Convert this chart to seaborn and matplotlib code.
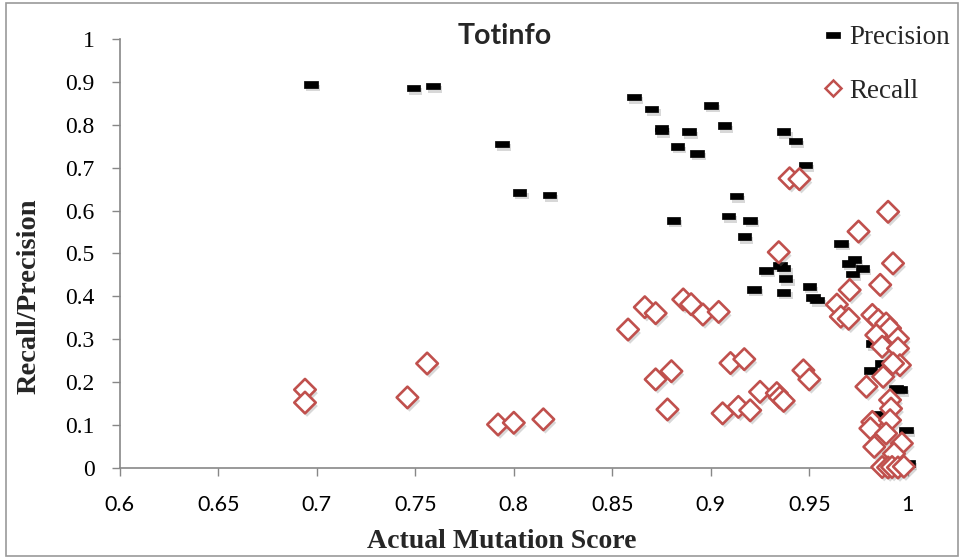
import numpy as np
import pandas as pd
import matplotlib
matplotlib.use("Agg")
import matplotlib.pyplot as plt
import matplotlib.patheffects as pe
from matplotlib.lines import Line2D
from matplotlib.patches import Rectangle
from matplotlib.path import Path
import seaborn as sns

# Precision per mutant sample: actual mutation score vs. precision
precision_score = [0.697, 0.749, 0.759, 0.794, 0.803, 0.818, 0.861, 0.870, 0.900, 0.875,
                   0.875, 0.889, 0.907, 0.883, 0.893, 0.937, 0.943, 0.948, 0.913, 0.881,
                   0.909, 0.920, 0.917, 0.935, 0.937, 0.928, 0.938, 0.922, 0.937, 0.950,
                   0.952, 0.954, 0.966, 0.973, 0.970, 0.977, 0.972, 0.982, 0.987, 0.981,
                   0.994, 0.996, 0.985, 0.999, 1.000]
precision_value = [0.893, 0.885, 0.890, 0.755, 0.642, 0.636, 0.864, 0.836, 0.845, 0.792,
                   0.785, 0.783, 0.797, 0.749, 0.733, 0.783, 0.762, 0.706, 0.634, 0.577,
                   0.587, 0.577, 0.539, 0.472, 0.466, 0.461, 0.441, 0.417, 0.410, 0.423,
                   0.398, 0.392, 0.524, 0.486, 0.477, 0.465, 0.452, 0.290, 0.244, 0.228,
                   0.186, 0.183, 0.125, 0.089, 0.012]

# Recall per mutant sample
recall_score = [0.694, 0.694, 0.746, 0.756, 0.792, 0.800, 0.815, 0.858, 0.8665, 0.872,
                0.886, 0.890, 0.896, 0.904, 0.872, 0.880, 0.878, 0.910, 0.917, 0.906,
                0.914, 0.920, 0.925, 0.9335, 0.935, 0.937, 0.9345, 0.940, 0.945, 0.947,
                0.950, 0.964, 0.966, 0.970, 0.975, 0.990, 0.9925, 0.986, 0.9705, 0.982,
                0.985, 0.989, 0.991, 0.984, 0.995, 0.987, 0.995, 0.996, 0.9875, 0.979,
                0.991, 0.9915, 0.982, 0.981, 0.991, 0.989, 0.983, 0.997, 0.993, 0.987,
                0.990, 0.992, 0.995, 0.998, 0.9925]
recall_value = [0.183, 0.153, 0.165, 0.244, 0.102, 0.106, 0.114, 0.323, 0.375, 0.361,
                0.393, 0.382, 0.358, 0.364, 0.207, 0.226, 0.137, 0.245, 0.254, 0.128,
                0.143, 0.135, 0.178, 0.175, 0.165, 0.157, 0.503, 0.675, 0.673, 0.228,
                0.207, 0.381, 0.353, 0.348, 0.551, 0.597, 0.477, 0.427, 0.415, 0.357,
                0.345, 0.337, 0.326, 0.310, 0.302, 0.283, 0.279, 0.240, 0.213, 0.190,
                0.159, 0.139, 0.108, 0.093, 0.112, 0.081, 0.050, 0.058, 0.034, 0.003,
                0.002, 0.003, 0.002, 0.004, 0.244]

x_ticks = [0.6, 0.65, 0.7, 0.75, 0.8, 0.85, 0.9, 0.95, 1.0]
x_tick_labels = ["0.6", "0.65", "0.7", "0.75", "0.8", "0.85", "0.9", "0.95", "1"]
y_ticks = [0, 0.1, 0.2, 0.3, 0.4, 0.5, 0.6, 0.7, 0.8, 0.9, 1.0]
y_tick_labels = ["0", "0.1", "0.2", "0.3", "0.4", "0.5", "0.6", "0.7", "0.8", "0.9", "1"]

prec_df = pd.DataFrame({"score": precision_score, "value": precision_value})
rec_df = pd.DataFrame({"score": recall_score, "value": recall_value})

sns.set_theme(style="white")

RED = "#C0504D"
GRAY = "#878787"
SERIF = ["Liberation Serif", "DejaVu Serif"]
SANS = ["Lato", "DejaVu Sans"]

# wide dash marker (2:1 rectangle)
dash = Path([(-1, -0.5), (1, -0.5), (1, 0.5), (-1, 0.5), (-1, -0.5)],
            [Path.MOVETO, Path.LINETO, Path.LINETO, Path.LINETO, Path.CLOSEPOLY])

fig = plt.figure(figsize=(9.64, 5.59), dpi=100)
ax = fig.add_axes([0.1243, 0.1622, 0.8174, 0.7687])

shadow = [pe.SimplePatchShadow(offset=(1.5, -2.5), shadow_rgbFace="#808080", alpha=0.3),
          pe.Normal()]

sns.scatterplot(data=prec_df, x="score", y="value", ax=ax, marker=dash, s=95,
                color="black", edgecolor="black", linewidth=0.5, clip_on=False,
                zorder=3, legend=False, path_effects=shadow)
sns.scatterplot(data=rec_df, x="score", y="value", ax=ax, marker="D", s=120,
                facecolor="white", edgecolor=RED, linewidth=1.9, clip_on=False,
                zorder=4, legend=False, path_effects=shadow)

ax.set_xlim(0.6, 1.0)
ax.set_ylim(0, 1.0)
ax.set_xticks(x_ticks)
ax.set_xticklabels(x_tick_labels, family=SANS, fontsize=15.5)
ax.set_yticks(y_ticks)
ax.set_yticklabels(y_tick_labels, family=SERIF, fontsize=17)
ax.tick_params(axis="both", direction="out", length=6, width=1, color=GRAY,
               labelcolor="black", left=True, bottom=True)
ax.tick_params(axis="y", pad=12)
ax.tick_params(axis="x", pad=13)

for side in ["top", "right"]:
    ax.spines[side].set_visible(False)
for side in ["left", "bottom"]:
    ax.spines[side].set_color(GRAY)
    ax.spines[side].set_linewidth(1.2)

ax.set_xlabel("Actual Mutation Score", family=SERIF, fontsize=20, fontweight="bold")
ax.set_ylabel("Recall/Precision", family=SERIF, fontsize=20.5, fontweight="bold")
ax.xaxis.set_label_coords(0.485, -0.142)
ax.yaxis.set_label_coords(-0.099, 0.4)

ax.text(0.489, 1.007, "Totinfo", transform=ax.transAxes, ha="center", va="center",
        family=SANS, fontsize=20.5, fontweight="bold")

handles = [
    Line2D([], [], linestyle="none", marker=dash, markersize=10, color="black",
           markeredgewidth=0.5),
    Line2D([], [], linestyle="none", marker="D", markersize=8.5, markerfacecolor="white",
           markeredgecolor=RED, markeredgewidth=1.8),
]
fig.legend(handles, ["Precision", "Recall"], loc="upper left",
           bbox_to_anchor=(0.853, 0.955), frameon=False,
           prop={"family": SERIF, "size": 19.5}, handlelength=0.8, handletextpad=0.2,
           labelspacing=1.05, borderaxespad=0, borderpad=0)

# light frame around the chart area
fig.patches.append(Rectangle((0.006, 0.006), 0.988, 0.988, transform=fig.transFigure,
                             fill=False, edgecolor="#9a9a9a", linewidth=1.2))

fig.savefig("out.png", dpi=100)
